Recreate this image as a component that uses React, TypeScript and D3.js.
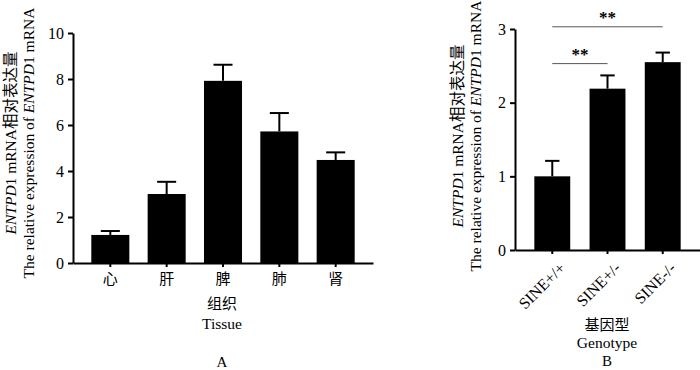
import React, { useRef, useEffect } from "react";
import * as d3 from "d3";

// panel A: tissues
const tissues = ["心", "肝", "脾", "肺", "肾"];
const tissueMeans = [1.22, 3.0, 7.92, 5.72, 4.48];
const tissueErrs = [0.17, 0.53, 0.7, 0.8, 0.33];
const tissueTicks = [0, 2, 4, 6, 8, 10];

// panel B: genotypes
const genotypes = ["SINE+/+", "SINE+/-", "SINE-/-"];
const genotypeMeans = [1.0, 2.19, 2.55];
const genotypeErrs = [0.21, 0.18, 0.13];
const genotypeTicks = [0, 1, 2, 3];
const sigPairs = [
  { from: 0, to: 1, y: 2.53, label: "**" },
  { from: 0, to: 2, y: 3.03, label: "**" },
];

const FONT = "'Liberation Serif', 'Times New Roman', 'Noto Sans CJK SC', serif";

const App = () => {
  const ref = useRef<SVGSVGElement>(null);

  useEffect(() => {
    const svg = d3.select(ref.current);
    svg.selectAll("*").remove();
    svg.style("font-family", FONT);

    const drawYLabel = (g, cx, cy) => {
      const t1 = g
        .append("text")
        .attr("transform", `translate(${cx - 9},${cy}) rotate(-90)`)
        .attr("text-anchor", "middle")
        .attr("dy", "0.35em")
        .attr("font-size", 15.5);
      t1.append("tspan").attr("font-style", "italic").text("ENTPD");
      t1.append("tspan").text("1 mRNA相对表达量");

      const t2 = g
        .append("text")
        .attr("transform", `translate(${cx + 9},${cy}) rotate(-90)`)
        .attr("text-anchor", "middle")
        .attr("dy", "0.35em")
        .attr("font-size", 15.5);
      t2.append("tspan").text("The relative expression of ");
      t2.append("tspan").attr("font-style", "italic").text("ENTPD");
      t2.append("tspan").text("1 mRNA");
    };

    const drawBars = (g, cats, means, errs, x, y, capFrac) => {
      const bw = x.bandwidth();
      g.selectAll(null)
        .data(cats)
        .join("rect")
        .attr("x", (d) => x(d))
        .attr("y", (d, i) => y(means[i]))
        .attr("width", bw)
        .attr("height", (d, i) => y(0) - y(means[i]))
        .attr("fill", "#000");

      // error bars (upper only)
      g.selectAll(null)
        .data(cats)
        .join("line")
        .attr("x1", (d) => x(d) + bw / 2)
        .attr("x2", (d) => x(d) + bw / 2)
        .attr("y1", (d, i) => y(means[i]))
        .attr("y2", (d, i) => y(means[i] + errs[i]))
        .attr("stroke", "#000")
        .attr("stroke-width", 2);

      g.selectAll(null)
        .data(cats)
        .join("line")
        .attr("x1", (d) => x(d) + bw / 2 - (bw * capFrac) / 2)
        .attr("x2", (d) => x(d) + bw / 2 + (bw * capFrac) / 2)
        .attr("y1", (d, i) => y(means[i] + errs[i]))
        .attr("y2", (d, i) => y(means[i] + errs[i]))
        .attr("stroke", "#000")
        .attr("stroke-width", 2);
    };

    const styleAxis = (g) => {
      g.attr("font-family", null).attr("font-size", null);
      g.selectAll(".domain").attr("stroke", "#000").attr("stroke-width", 2);
      g.selectAll(".tick line").attr("stroke", "#000").attr("stroke-width", 2);
      g.selectAll(".tick text").attr("fill", "#000").style("font-family", FONT);
    };

    // ---------- panel A ----------
    const xA = d3.scaleBand().domain(tissues).range([73, 373]).padding(0.325);
    const yA = d3.scaleLinear().domain([0, 10]).range([263, 33]);
    const gA = svg.append("g");

    drawBars(gA, tissues, tissueMeans, tissueErrs, xA, yA, 0.5);

    gA.append("g")
      .attr("transform", `translate(73,0)`)
      .call(d3.axisLeft(yA).tickValues(tissueTicks).tickFormat(d3.format("d")).tickSize(5).tickPadding(4).tickSizeOuter(0))
      .call(styleAxis)
      .selectAll(".tick text")
      .style("font-size", "16px");

    gA.append("g")
      .attr("transform", `translate(0,${yA(0)})`)
      .call(d3.axisBottom(xA).tickSize(4).tickPadding(6).tickSizeOuter(0))
      .call(styleAxis)
      .selectAll(".tick text")
      .style("font-size", "15px");

    drawYLabel(gA, 20, 143);

    gA.append("text").attr("x", 222).attr("y", 309).attr("text-anchor", "middle").attr("font-size", 15).text("组织");
    gA.append("text").attr("x", 222).attr("y", 329).attr("text-anchor", "middle").attr("font-size", 15.5).text("Tissue");
    gA.append("text").attr("x", 222).attr("y", 367).attr("text-anchor", "middle").attr("font-size", 15).text("A");

    // ---------- panel B ----------
    const xB = d3.scaleBand().domain(genotypes).range([515, 700]).paddingInner(0.35).paddingOuter(0.35);
    const yB = d3.scaleLinear().domain([0, 3]).range([250, 29]);
    const gB = svg.append("g");

    drawBars(gB, genotypes, genotypeMeans, genotypeErrs, xB, yB, 0.4);

    gB.append("g")
      .attr("transform", `translate(515,0)`)
      .call(d3.axisLeft(yB).tickValues(genotypeTicks).tickFormat(d3.format("d")).tickSize(5).tickPadding(4).tickSizeOuter(0))
      .call(styleAxis)
      .selectAll(".tick text")
      .style("font-size", "16px");

    const axB = gB
      .append("g")
      .attr("transform", `translate(0,${yB(0)})`)
      .call(d3.axisBottom(xB).tickSize(4).tickSizeOuter(0))
      .call(styleAxis);
    axB
      .selectAll(".tick text")
      .style("font-size", "16px")
      .attr("text-anchor", "end")
      .attr("y", 0)
      .attr("dy", 0)
      .attr("transform", "translate(14,19) rotate(-45)");

    // significance brackets
    const mid = (c) => xB(c) + xB.bandwidth() / 2;
    sigPairs.forEach((p) => {
      const x1 = mid(genotypes[p.from]);
      const x2 = mid(genotypes[p.to]);
      gB.append("line")
        .attr("x1", x1)
        .attr("x2", x2)
        .attr("y1", yB(p.y))
        .attr("y2", yB(p.y))
        .attr("stroke", "#555")
        .attr("stroke-width", 1);
      gB.append("text")
        .attr("x", (x1 + x2) / 2)
        .attr("y", yB(p.y) - 4)
        .attr("text-anchor", "middle")
        .attr("font-size", 17)
        .attr("font-weight", "bold")
        .text(p.label);
    });

    drawYLabel(gB, 467, 136);

    gB.append("text").attr("x", 607).attr("y", 330).attr("text-anchor", "middle").attr("font-size", 15).text("基因型");
    gB.append("text").attr("x", 607).attr("y", 348).attr("text-anchor", "middle").attr("font-size", 15.5).text("Genotype");
    gB.append("text").attr("x", 607).attr("y", 366).attr("text-anchor", "middle").attr("font-size", 15).text("B");
  }, []);

  return (
    <svg
      ref={ref}
      width={700}
      height={370}
      style={{ position: "absolute", left: 0, top: 0, background: "#fff" }}
    ></svg>
  );
};

export default App;
